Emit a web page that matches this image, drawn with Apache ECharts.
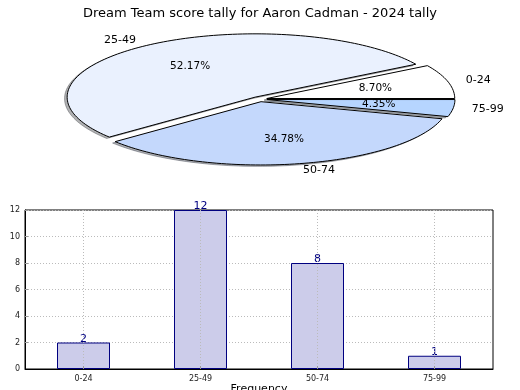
<!DOCTYPE html>
<html>
<head>
<meta charset="utf-8">
<script src="https://cdn.jsdelivr.net/npm/echarts@6/dist/echarts.min.js"></script>
<style>html,body{margin:0;padding:0;background:#fff}#c{width:520px;height:390px}</style>
</head>
<body>
<div id="c"></div>
<script>
// ---- data ----
const categories = ['0-24', '25-49', '50-74', '75-99'];
const counts = [2, 12, 8, 1];
const pieColors = ['#ffffff', '#eaf1fe', '#c4d8fc', '#b6d5ff'];
const titleText = 'Dream Team score tally for Aaron Cadman - 2024 tally';

// ---- pie layout (elliptical, exploded, with shadow) ----
const PIE = { cx: 259.5, cy: 99.2, rx: 188, ry: 63.3, explode: 0.04, shadowX: 0.014, shadowY: 0.022 };
const FONT = "'DejaVu Sans', sans-serif";

function sliceAngles(i) {
  const total = counts.reduce((a, b) => a + b, 0);
  let s = 0;
  for (let j = 0; j < i; j++) s += counts[j];
  return { a0: s / total * Math.PI * 2, a1: (s + counts[i]) / total * Math.PI * 2, frac: counts[i] / total };
}
function sliceCenter(i, shadow) {
  const { a0, a1 } = sliceAngles(i);
  const mid = (a0 + a1) / 2;
  let x = PIE.cx + PIE.explode * PIE.rx * Math.cos(mid);
  let y = PIE.cy - PIE.explode * PIE.ry * Math.sin(mid);
  if (shadow) { x -= PIE.shadowX * PIE.rx; y += PIE.shadowY * PIE.ry; }
  return [x, y, mid];
}
function slicePoints(i, shadow) {
  const { a0, a1 } = sliceAngles(i);
  const [x, y] = sliceCenter(i, shadow);
  const pts = [[x, y]];
  const n = Math.max(6, Math.ceil((a1 - a0) / (Math.PI * 2) * 240));
  for (let k = 0; k <= n; k++) {
    const a = a0 + (a1 - a0) * k / n;
    pts.push([x + PIE.rx * Math.cos(a), y - PIE.ry * Math.sin(a)]);
  }
  return pts;
}
function shadowColor(hex) {
  const r = parseInt(hex.slice(1, 3), 16), g = parseInt(hex.slice(3, 5), 16), b = parseInt(hex.slice(5, 7), 16);
  return 'rgba(' + Math.round(r * 0.3) + ',' + Math.round(g * 0.3) + ',' + Math.round(b * 0.3) + ',0.42)';
}

const chart = echarts.init(document.getElementById('c'), null, { renderer: 'canvas' });
chart.setOption({
  animation: false,
  title: {
    text: titleText, left: 'center', top: 2,
    textStyle: { fontSize: 13, fontWeight: 'normal', color: '#000', fontFamily: FONT }
  },
  grid: {
    left: 25, right: 27, top: 210, bottom: 21,
    outerBoundsMode: 'none', containLabel: false,
    show: true, borderColor: '#000', borderWidth: 1, backgroundColor: 'transparent'
  },
  xAxis: {
    type: 'category', data: categories, boundaryGap: true, z: 3,
    name: 'Frequency', nameLocation: 'middle', nameGap: 13,
    nameTextStyle: { fontSize: 11, color: '#000', fontFamily: FONT },
    axisLine: { show: true, lineStyle: { color: '#000', width: 1 } },
    axisTick: { show: true, inside: true, alignWithLabel: true, length: 3, lineStyle: { color: '#999' } },
    axisLabel: { fontSize: 8, color: '#222', margin: 6, fontFamily: FONT },
    splitLine: { show: true, alignWithLabel: true, lineStyle: { type: [1, 2], color: '#bbb', width: 1 } }
  },
  yAxis: {
    type: 'value', min: 0, max: 12, interval: 2,
    name: 'Stat Intervals', nameLocation: 'middle', nameGap: 14,
    nameTextStyle: { fontSize: 11, color: '#000', fontFamily: FONT },
    axisLine: { show: true, lineStyle: { color: '#000', width: 1 } },
    axisTick: { show: true, inside: true, length: 3, lineStyle: { color: '#999' } },
    axisLabel: { fontSize: 8, color: '#222', margin: 5, fontFamily: FONT },
    splitLine: { show: true, lineStyle: { type: [1, 2], color: '#bbb', width: 1 } }
  },
  series: [
    {
      type: 'bar', data: counts, barWidth: 53, z: 2,
      itemStyle: { color: '#ccccea', borderColor: '#000080', borderWidth: 1 },
      label: { show: true, position: 'top', distance: -2, color: '#000080', fontSize: 11, fontFamily: FONT }
    },
    {
      type: 'custom', coordinateSystem: 'none', data: counts, z: 1, silent: true,
      renderItem: function (params, api) {
        const i = params.dataIndex;
        const c = shadowColor(pieColors[i]);
        return {
          type: 'polygon', shape: { points: slicePoints(i, true) },
          style: { fill: c, stroke: c, lineWidth: 1 }
        };
      }
    },
    {
      type: 'custom', coordinateSystem: 'none', data: counts, z: 4, silent: true,
      renderItem: function (params, api) {
        const i = params.dataIndex;
        const [x, y, mid] = sliceCenter(i, false);
        const { frac } = sliceAngles(i);
        const lx = x + 1.1 * PIE.rx * Math.cos(mid);
        const ly = y - 1.1 * PIE.ry * Math.sin(mid);
        const px = x + 0.6 * PIE.rx * Math.cos(mid);
        const py = y - 0.6 * PIE.ry * Math.sin(mid);
        return {
          type: 'group',
          children: [
            {
              type: 'polygon', shape: { points: slicePoints(i, false) },
              style: { fill: pieColors[i], stroke: '#000', lineWidth: 1 }
            },
            {
              type: 'text', x: lx, y: ly,
              style: {
                text: categories[i], fontSize: 11, fontFamily: FONT, fill: '#000',
                align: Math.cos(mid) > 0 ? 'left' : 'right', verticalAlign: 'middle'
              }
            },
            {
              type: 'text', x: px, y: py,
              style: {
                text: (frac * 100).toFixed(2) + '%', fontSize: 10.5, fontFamily: FONT, fill: '#000',
                align: 'center', verticalAlign: 'middle'
              }
            }
          ]
        };
      }
    }
  ]
});
</script>
</body>
</html>
